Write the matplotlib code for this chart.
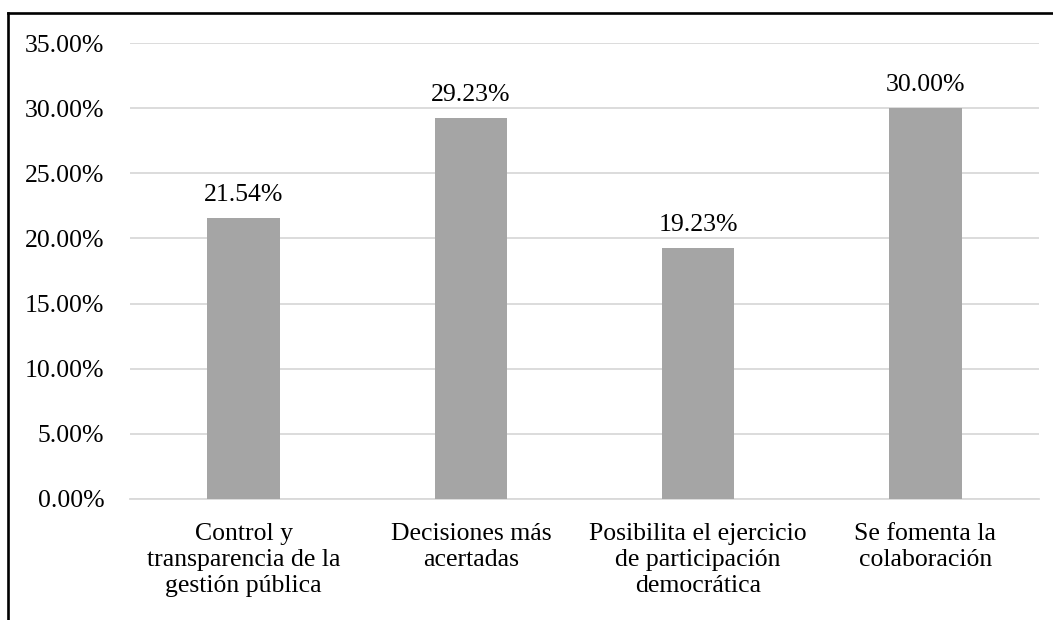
import matplotlib
matplotlib.use("Agg")
import matplotlib.pyplot as plt
from matplotlib.lines import Line2D
from matplotlib.ticker import FuncFormatter

categories = [
    "Control y\ntransparencia de la\ngestión pública",
    "Decisiones más\nacertadas",
    "Posibilita el ejercicio\nde participación\ndemocrática",
    "Se fomenta la\ncolaboración",
]
values = [0.2154, 0.2923, 0.1923, 0.3000]
y_ticks = [0.0, 0.05, 0.10, 0.15, 0.20, 0.25, 0.30, 0.35]

plt.rcParams["font.family"] = ["Liberation Serif", "DejaVu Serif"]
plt.rcParams["font.size"] = 18.5

fig = plt.figure(figsize=(10.53, 6.2), dpi=100)
ax = fig.add_axes([0.1235, 0.1952, 0.8632, 0.7354])

xs = list(range(len(categories)))
bars = ax.bar(xs, values, width=0.32, color="#A5A5A5", zorder=3)
ax.bar_label(bars, fmt=lambda v: f"{v * 100:.2f}%", padding=9)

ax.set_xlim(-0.5, len(categories) - 0.5)
ax.set_ylim(0, 0.35)
ax.set_yticks(y_ticks)
ax.yaxis.set_major_formatter(FuncFormatter(lambda v, _: f"{v * 100:.2f}%"))
ax.set_xticks(xs, categories, linespacing=1.25)

ax.grid(axis="y", color="#D9D9D9", linewidth=1.3, zorder=0)
for side in ["top", "right", "left"]:
    ax.spines[side].set_visible(False)
ax.spines["bottom"].set_color("#D9D9D9")
ax.spines["bottom"].set_linewidth(1.3)
ax.tick_params(axis="y", length=0, pad=18.5)
ax.tick_params(axis="x", length=0, pad=17)

# frame of the original picture (only left and top edges visible)
fig.add_artist(Line2D([8 / 1053, 8 / 1053], [0, 1 - 13 / 620], color="black", linewidth=1.9))
fig.add_artist(Line2D([8 / 1053, 1], [1 - 13 / 620, 1 - 13 / 620], color="black", linewidth=1.9))

plt.savefig("out.png", dpi=100)
